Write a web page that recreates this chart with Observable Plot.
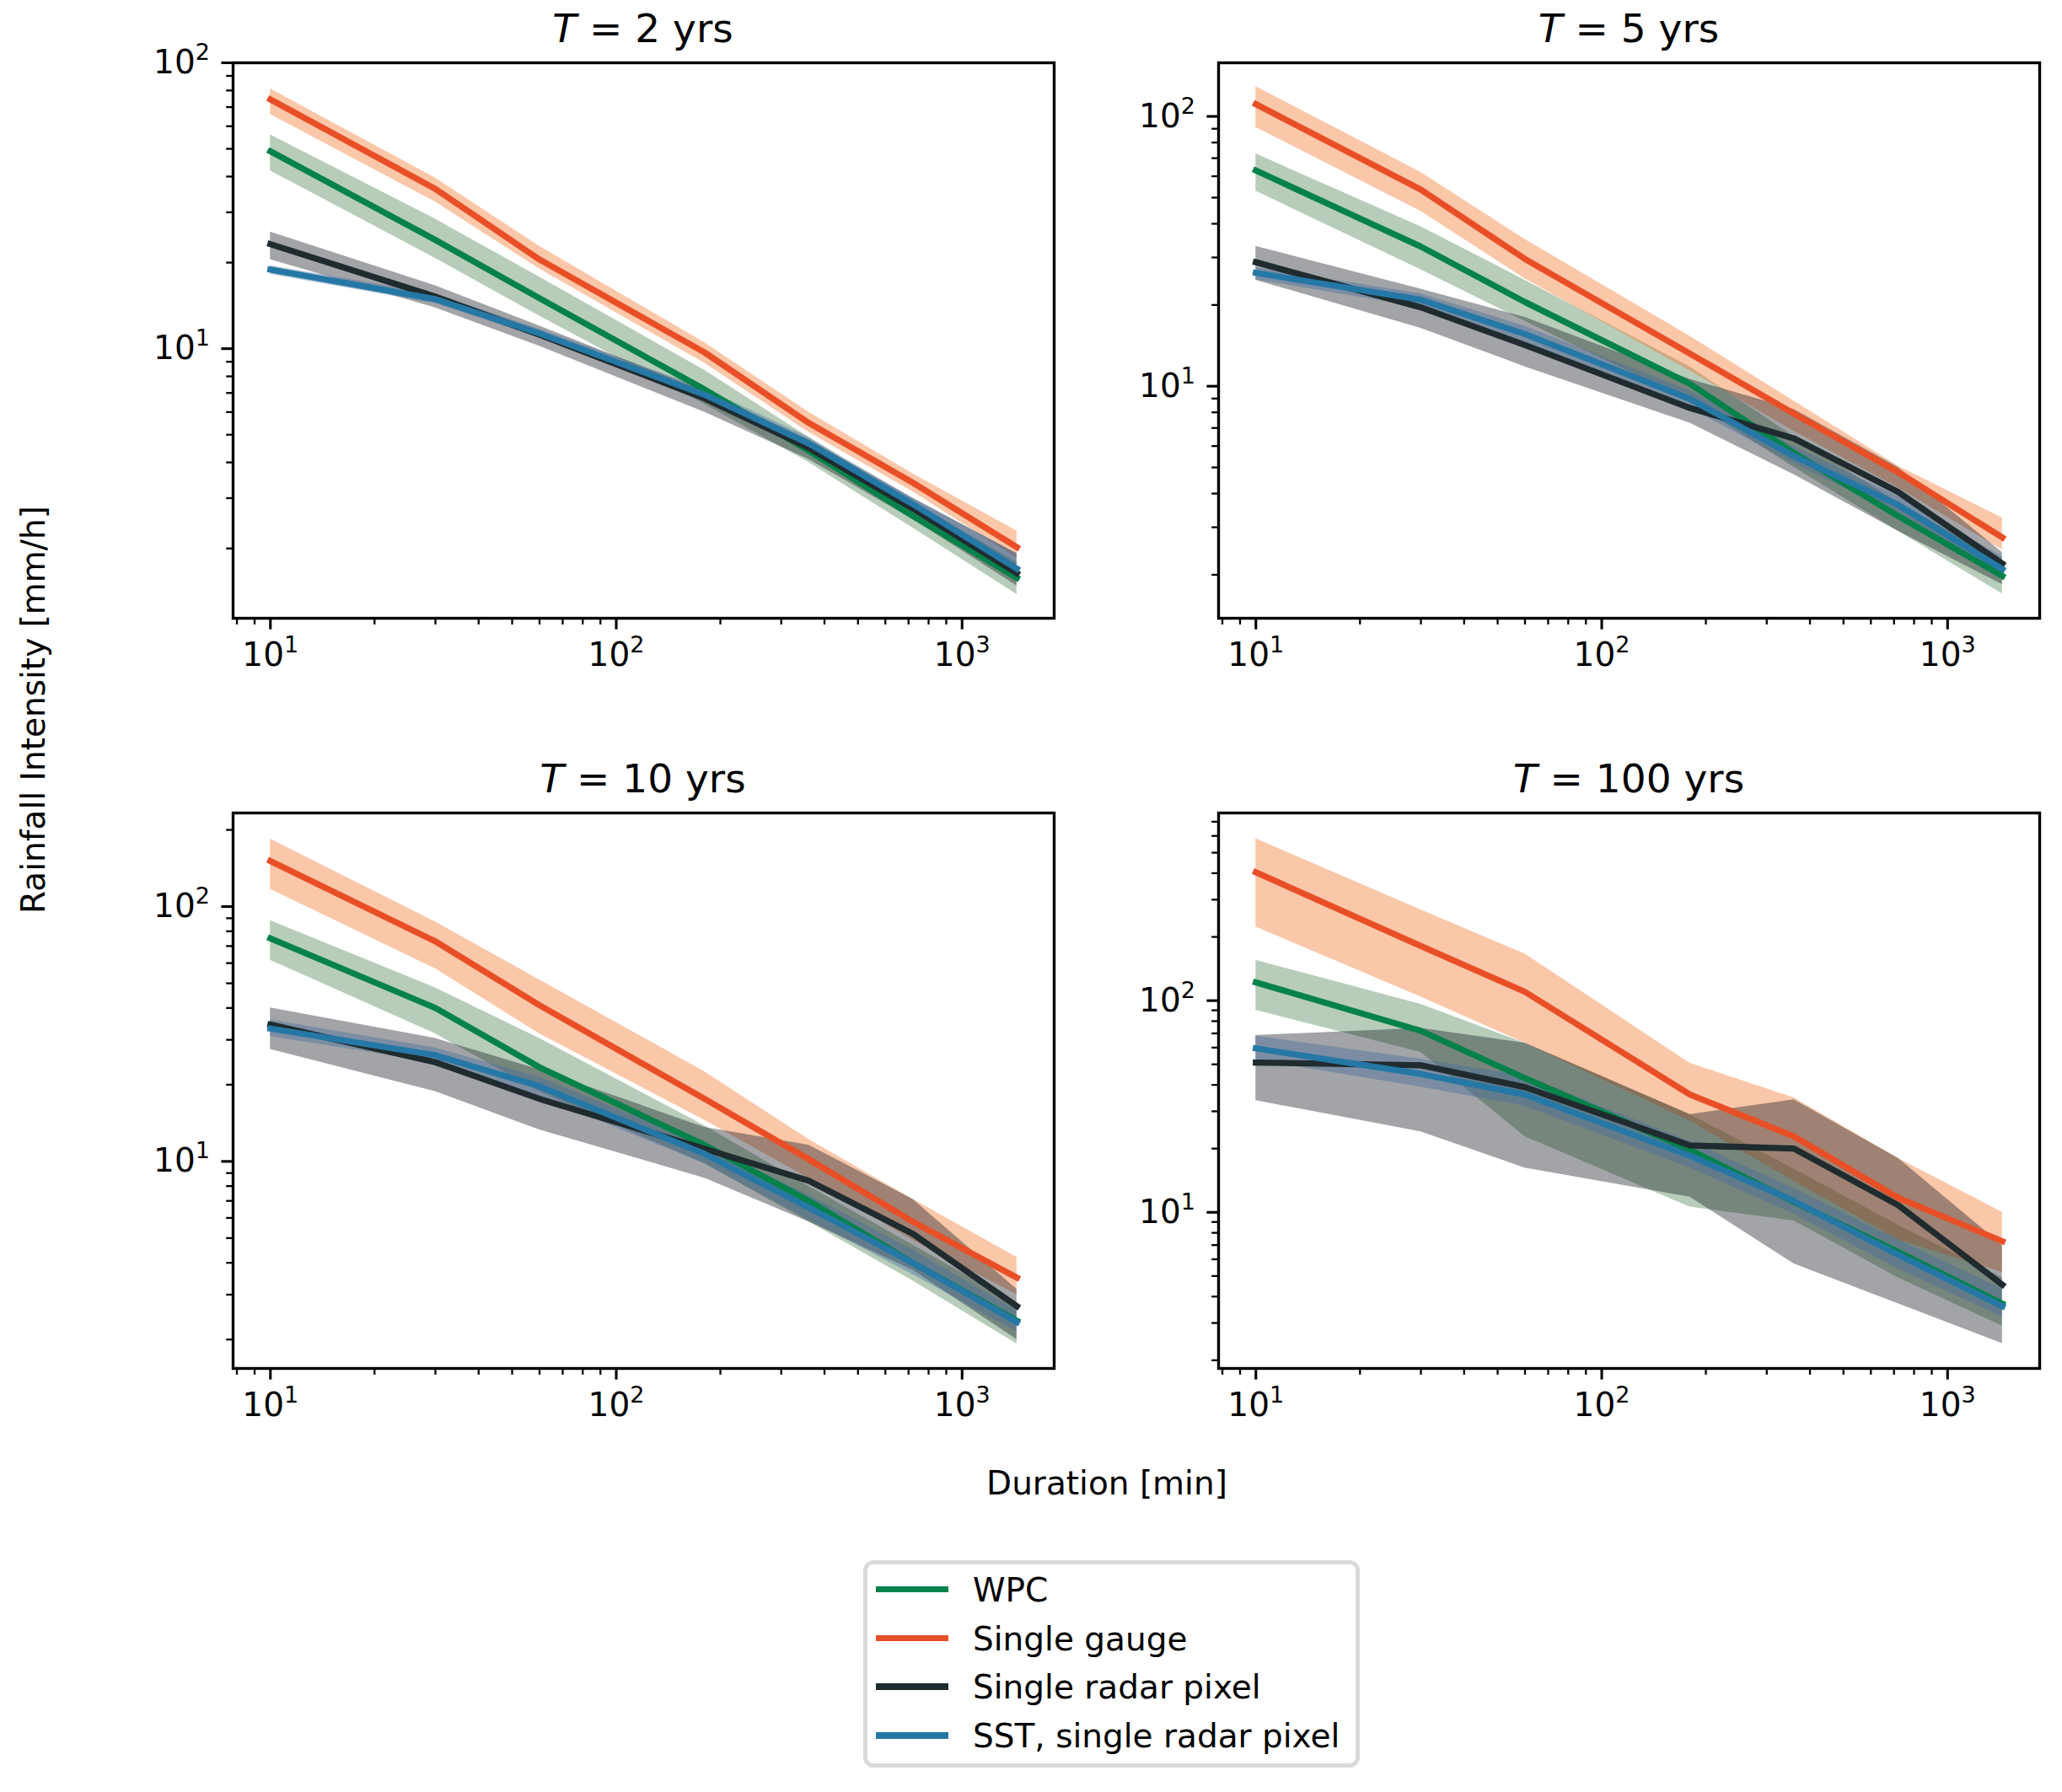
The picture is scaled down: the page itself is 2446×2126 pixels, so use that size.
<!DOCTYPE html>
<html>
<head>
<meta charset="utf-8">
<script src="https://cdn.jsdelivr.net/npm/d3@7"></script>
<script src="https://cdn.jsdelivr.net/npm/@observablehq/plot@0.6"></script>
<style>
  html, body { margin: 0; padding: 0; background: #fff; }
  #page { position: relative; width: 2446px; height: 2126px; background: #fff; font-family: "DejaVu Sans", sans-serif; color: #000; overflow: hidden; }
  .abs { position: absolute; white-space: nowrap; }
  .title { font-size: 47px; line-height: 47px; transform: translateX(-50%); }
  .lbl { font-size: 39px; line-height: 39px; }
  .legend { position: absolute; box-sizing: border-box; border: 5px solid #dadada; border-radius: 12px; background: #fff; }
</style>
</head>
<body>
<div id="page"></div>
<script>
// ---------------- data ----------------
const durations = [10, 30, 60, 180, 360, 720, 1440];
const xTicks = [10, 100, 1000];
const seriesNames = ["WPC", "Single gauge", "Single radar pixel", "SST, single radar pixel"];
const lineColors = ["#05824a", "#e94f26", "#1f2b2e", "#2578a5"];
const bandColors = ["#4b8250", "#f57328", "#161b23", "#436b9d"];
const panelTitles = ["2 yrs", "5 yrs", "10 yrs", "100 yrs"];

// T = 2 yrs
const t2_wpc      = [49, 24, 15, 7.2, 4.4, 2.6, 1.58];
const t2_wpc_lo   = [41.9, 20.7, 13, 6.4, 4.0, 2.36, 1.38];
const t2_wpc_hi   = [56, 28.4, 17.8, 8.4, 4.9, 2.9, 1.79];
const t2_gauge    = [74.4, 36.2, 20.5, 9.7, 5.5, 3.4, 2.02];
const t2_gauge_lo = [66, 32.6, 19, 8.9, 5.1, 3.16, 1.85];
const t2_gauge_hi = [81, 39.5, 22.8, 10.5, 6.0, 3.65, 2.3];
const t2_radar    = [23.2, 15.2, 11.2, 6.7, 4.5, 2.76, 1.64];
const t2_radar_lo = [20.5, 13.9, 10.2, 6.0, 4.1, 2.53, 1.48];
const t2_radar_hi = [25.6, 16.6, 12, 7.1, 4.8, 3.0, 1.92];
const t2_sst      = [18.9, 14.9, 11.3, 6.9, 4.66, 2.86, 1.7];
const t2_sst_lo   = [18.2, 14.4, 10.9, 6.6, 4.35, 2.69, 1.55];
const t2_sst_hi   = [19.5, 15.5, 11.7, 7.25, 4.9, 3.0, 1.92];

// T = 5 yrs
const t5_wpc      = [63, 32.9, 20.5, 10.2, 5.65, 3.3, 1.98];
const t5_wpc_lo   = [52.8, 27, 17.4, 8.8, 5.0, 2.9, 1.7];
const t5_wpc_hi   = [72.6, 39, 24.7, 11.8, 6.5, 3.7, 2.25];
const t5_gauge    = [111, 53.5, 29.6, 13.2, 7.9, 4.8, 2.75];
const t5_gauge_lo = [91, 44.5, 25, 11.4, 6.8, 4.2, 2.47];
const t5_gauge_hi = [129, 62, 35, 15.3, 8.8, 5.06, 3.25];
const t5_radar    = [28.8, 19.6, 14.2, 8.3, 6.4, 4.05, 2.2];
const t5_radar_lo = [24.7, 16.4, 11.8, 7.3, 4.7, 2.9, 1.84];
const t5_radar_hi = [33, 22.9, 18, 10.6, 8.2, 5.0, 2.42];
const t5_sst      = [26.3, 20.9, 15.6, 8.96, 5.5, 3.63, 2.1];
const t5_sst_lo   = [24.8, 19.6, 14.5, 8.3, 5.15, 3.37, 1.94];
const t5_sst_hi   = [27.5, 22, 16.7, 9.6, 5.97, 3.9, 2.33];

// T = 10 yrs
const t10_wpc      = [75, 40, 23.4, 11.6, 7.0, 4.0, 2.37];
const t10_wpc_lo   = [61.6, 31.7, 18.8, 9.8, 5.8, 3.4, 1.92];
const t10_wpc_hi   = [88, 48, 30.4, 13.8, 8.0, 4.7, 2.76];
const t10_gauge    = [151, 73, 41, 17.6, 10.2, 5.8, 3.5];
const t10_gauge_lo = [117, 57, 31.7, 14.5, 8.6, 4.9, 3.0];
const t10_gauge_hi = [184, 87, 51.6, 22.5, 12.2, 7.1, 4.2];
const t10_radar    = [34.4, 24.5, 17.6, 11.2, 8.4, 5.2, 2.7];
const t10_radar_lo = [27.5, 18.8, 13.3, 8.6, 5.8, 3.75, 2.0];
const t10_radar_hi = [40, 30.4, 22.9, 13.6, 11.6, 7.1, 3.15];
const t10_sst      = [33.2, 26.1, 19.7, 10.7, 6.6, 4.0, 2.34];
const t10_sst_lo   = [30.9, 24.4, 18.0, 9.8, 5.9, 3.6, 2.14];
const t10_sst_hi   = [35.9, 27.9, 21.4, 11.6, 7.4, 4.5, 2.6];

// T = 100 yrs
const t100_wpc      = [122, 72, 43, 19.7, 11.2, 6.5, 3.7];
const t100_wpc_lo   = [90, 57, 22.8, 10.6, 9.1, 4.9, 2.9];
const t100_wpc_hi   = [155, 96, 63, 29, 16, 8.7, 4.9];
const t100_gauge    = [404, 181, 110, 36, 22.8, 11.7, 7.3];
const t100_gauge_lo = [223, 104, 63, 27, 14, 7.4, 5.2];
const t100_gauge_hi = [582, 268, 166, 50.6, 34.7, 18, 10];
const t100_radar    = [51, 49.5, 39, 20.7, 20, 10.8, 4.55];
const t100_radar_lo = [33.7, 24, 16.2, 11.8, 5.7, 3.7, 2.4];
const t100_radar_hi = [68.5, 74, 63, 29, 34, 18, 7];
const t100_sst      = [59.5, 45, 36, 18.5, 11.3, 6.3, 3.6];
const t100_sst_lo   = [52.5, 39, 31.7, 16.2, 9.8, 5.4, 3.2];
const t100_sst_hi   = [68, 53, 44, 21.6, 13, 7.4, 4.35];

const yTicks = [10, 100];
const yDomains = [[1.14, 100], [1.38, 158], [1.54, 233], [1.83, 770]];
const xDomain = [7.8, 1846];

const panelSeries = [
  [[t2_wpc, t2_wpc_lo, t2_wpc_hi], [t2_gauge, t2_gauge_lo, t2_gauge_hi], [t2_radar, t2_radar_lo, t2_radar_hi], [t2_sst, t2_sst_lo, t2_sst_hi]],
  [[t5_wpc, t5_wpc_lo, t5_wpc_hi], [t5_gauge, t5_gauge_lo, t5_gauge_hi], [t5_radar, t5_radar_lo, t5_radar_hi], [t5_sst, t5_sst_lo, t5_sst_hi]],
  [[t10_wpc, t10_wpc_lo, t10_wpc_hi], [t10_gauge, t10_gauge_lo, t10_gauge_hi], [t10_radar, t10_radar_lo, t10_radar_hi], [t10_sst, t10_sst_lo, t10_sst_hi]],
  [[t100_wpc, t100_wpc_lo, t100_wpc_hi], [t100_gauge, t100_gauge_lo, t100_gauge_hi], [t100_radar, t100_radar_lo, t100_radar_hi], [t100_sst, t100_sst_lo, t100_sst_hi]]
];

// ---------------- layout ----------------
const page = document.getElementById("page");
const FW = 974, FH = 659;
const colLeft = [275.5, 1445];
const rowTop = [73.5, 964];
const mL = 120, mR = 12, mT = 12, mB = 100;

function minorTicks(domain) {
  const out = [];
  for (let e = -1; e <= 4; e++) {
    const dec = Math.pow(10, e);
    for (let k = 2; k <= 9; k++) {
      const v = k * dec;
      if (v >= domain[0] && v <= domain[1]) out.push(v);
    }
  }
  return out;
}
const supFormat = d => "10^" + Math.round(Math.log10(d));

function fixSup(svg) {
  svg.querySelectorAll("text").forEach(t => {
    const m = /^10\^(\d)$/.exec(t.textContent.trim());
    if (!m) return;
    t.textContent = "10";
    const ts = document.createElementNS("http://www.w3.org/2000/svg", "tspan");
    ts.setAttribute("dy", "-16");
    ts.setAttribute("font-size", "27px");
    ts.textContent = m[1];
    t.appendChild(ts);
  });
}

for (let p = 0; p < 4; p++) {
  const col = p % 2, row = Math.floor(p / 2);
  const fl = colLeft[col], ft = rowTop[row];
  const yDomain = yDomains[p];
  const sers = panelSeries[p].map(([v, lo, hi], s) =>
    durations.map((d, i) => ({d, v: v[i], lo: lo[i], hi: hi[i], s: seriesNames[s]})));
  const marks = [];
  sers.forEach((data, s) => marks.push(Plot.areaY(data, {x: "d", y1: "lo", y2: "hi", fill: bandColors[s], fillOpacity: 0.4})));
  sers.forEach((data, s) => marks.push(Plot.line(data, {x: "d", y: "v", stroke: lineColors[s], strokeWidth: 7.3, strokeLinecap: "square", strokeLinejoin: "round"})));
  marks.push(
    Plot.axisX(minorTicks(xDomain), {tickSize: 7.8, strokeWidth: 2.3, tickFormat: () => "", label: null, stroke: "#000"}),
    Plot.axisX(xTicks, {tickSize: 13.6, strokeWidth: 3.1, tickPadding: 15, tickFormat: supFormat, fontSize: 39, label: null, stroke: "#000", fill: "#000"}),
    Plot.axisY(minorTicks(yDomain), {tickSize: 7.8, strokeWidth: 2.3, tickFormat: () => "", label: null, stroke: "#000"}),
    Plot.axisY(yTicks.filter(v => v >= yDomain[0] && v <= yDomain[1]), {tickSize: 13.6, strokeWidth: 3.1, tickPadding: 14, tickFormat: supFormat, fontSize: 39, label: null, stroke: "#000", fill: "#000"}),
    Plot.frame({stroke: "#000", strokeWidth: 3.4})
  );
  const chart = Plot.plot({
    width: FW + mL + mR,
    height: FH + mT + mB,
    marginLeft: mL, marginRight: mR, marginTop: mT, marginBottom: mB,
    style: {background: "transparent", fontFamily: "DejaVu Sans", fontSize: "39px", color: "#000", overflow: "visible"},
    x: {type: "log", domain: xDomain},
    y: {type: "log", domain: yDomain},
    marks
  });
  fixSup(chart);
  chart.style.position = "absolute";
  chart.style.left = (fl - mL) + "px";
  chart.style.top = (ft - mT) + "px";
  page.appendChild(chart);

  const title = document.createElement("div");
  title.className = "abs title";
  title.innerHTML = '<i>T</i> = ' + panelTitles[p];
  title.style.left = (fl + FW / 2) + "px";
  title.style.top = (ft - 64) + "px";
  page.appendChild(title);
}

// axis labels
const ylab = document.createElement("div");
ylab.className = "abs lbl";
ylab.textContent = "Rainfall Intensity [mm/h]";
ylab.style.left = "39px";
ylab.style.top = "842px";
ylab.style.transform = "translate(-50%, -50%) rotate(-90deg)";
page.appendChild(ylab);

const xlab = document.createElement("div");
xlab.className = "abs lbl";
xlab.textContent = "Duration [min]";
xlab.style.left = "1313px";
xlab.style.top = "1740px";
xlab.style.transform = "translateX(-50%)";
page.appendChild(xlab);

// legend
const leg = document.createElement("div");
leg.className = "legend";
leg.style.left = "1024px"; leg.style.top = "1851px";
leg.style.width = "589px"; leg.style.height = "246px";
page.appendChild(leg);
const rowCy = [1885.5, 1943.5, 2001, 2059];
seriesNames.forEach((name, i) => {
  const ln = document.createElement("div");
  ln.className = "abs";
  ln.style.left = "1039px"; ln.style.width = "86px";
  ln.style.top = (rowCy[i] - 3.65) + "px"; ln.style.height = "7.3px";
  ln.style.background = lineColors[i];
  page.appendChild(ln);
  const tx = document.createElement("div");
  tx.className = "abs lbl";
  tx.textContent = name;
  tx.style.left = "1154px";
  tx.style.top = (rowCy[i] - 19) + "px";
  page.appendChild(tx);
});
</script>
</body>
</html>
